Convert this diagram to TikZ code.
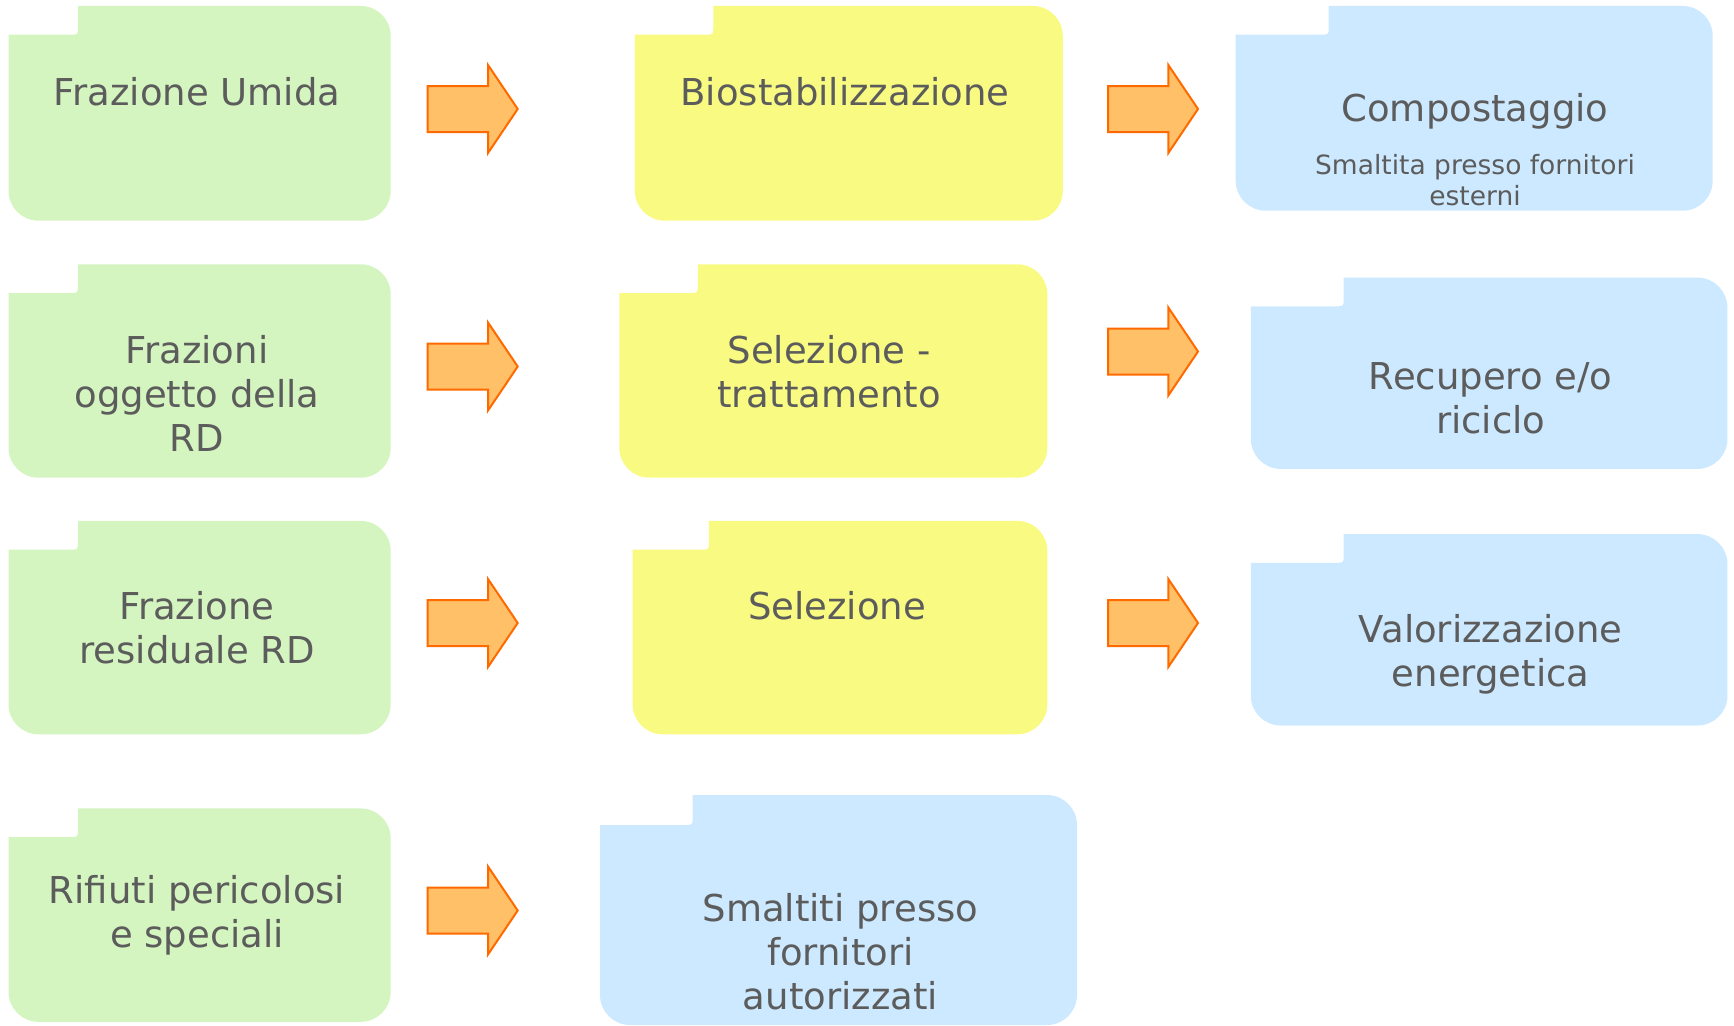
\documentclass[tikz,border=0pt]{standalone}
\usepackage{fontspec}
\setmainfont{DejaVu Sans}
\usepackage{tikz}
\usetikzlibrary{shapes.arrows}
\pgfdeclarelayer{edgelayer}
\pgfdeclarelayer{nodelayer}
\pgfsetlayers{edgelayer,nodelayer,main}
\definecolor{greenbox}{RGB}{212,245,192}
\definecolor{yellowbox}{RGB}{248,250,130}
\definecolor{bluebox}{RGB}{204,233,255}
\definecolor{arrowfill}{RGB}{255,192,104}
\definecolor{arrowline}{RGB}{255,106,0}
\definecolor{textgrey}{RGB}{92,92,92}
\tikzstyle{boxtext}=[text=textgrey, align=center, font=\fontsize{37}{44}\selectfont]
\tikzstyle{notetext}=[text=textgrey, align=center, font=\fontsize{26.5}{31}\selectfont]
\tikzstyle{bigarrow}=[single arrow, fill=arrowfill, draw=arrowline, line width=2pt, minimum height=90pt, single arrow head extend=21pt, single arrow tip angle=112, inner xsep=0pt, inner ysep=22pt, outer sep=0pt, anchor=tail]
% folder: colour, left, top, right, bottom, tab x, tab y
\newcommand{\folder}[7]{\fill [#1] (#6,#3) -- ({#4-30},#3) .. controls ({#4-13.4},#3) and (#4,{#3+13.4}) .. (#4,{#3+30}) -- (#4,{#5-30}) .. controls (#4,{#5-13.4}) and ({#4-13.4},#5) .. ({#4-30},#5) -- ({#2+30},#5) .. controls ({#2+13.4},#5) and (#2,{#5-13.4}) .. (#2,{#5-30}) -- (#2,#7) -- ({#6-8},#7) .. controls (#6,#7) .. (#6,{#7-8}) -- cycle;}

\begin{document}
\begin{tikzpicture}[x=1pt, y=-1pt]
	\useasboundingbox (0,0) rectangle (1734,1025);
	\begin{pgfonlayer}{edgelayer}
		\folder{greenbox}{8.5}{6}{390.7}{220.7}{78}{34.7}
		\folder{greenbox}{8.5}{264.3}{390.7}{477.7}{78}{293}
		\folder{greenbox}{8.5}{520.9}{390.7}{734.3}{78}{549.6}
		\folder{greenbox}{8.5}{808.4}{390.7}{1021.8}{78}{837.1}
		\folder{yellowbox}{634.8}{6}{1062.8}{220.7}{713.3}{34.7}
		\folder{yellowbox}{619.3}{264.3}{1047.3}{477.7}{697.8}{293}
		\folder{yellowbox}{632.6}{520.9}{1047.3}{734.3}{708.9}{549.6}
		\folder{bluebox}{1235.7}{6}{1712.7}{210.7}{1328.7}{34.7}
		\folder{bluebox}{1250.8}{277.6}{1727.4}{468.9}{1343.7}{306.3}
		\folder{bluebox}{1250.8}{534.1}{1727.4}{725.5}{1343.7}{562.8}
		\folder{bluebox}{600}{795}{1077}{1025}{692.7}{825}
		\node [style=bigarrow] (a1) at (427.7,109) {};
		\node [style=bigarrow] (a2) at (1108,109) {};
		\node [style=bigarrow] (a3) at (427.7,366.5) {};
		\node [style=bigarrow] (a4) at (1108,351.5) {};
		\node [style=bigarrow] (a5) at (427.7,623) {};
		\node [style=bigarrow] (a6) at (1108,623) {};
		\node [style=bigarrow] (a7) at (427.7,910.5) {};
	\end{pgfonlayer}
	\begin{pgfonlayer}{nodelayer}
		\node [style=boxtext] (1) at (197,92) {Frazione Umida};
		\node [style=boxtext] (2) at (845,92) {Biostabilizzazione};
		\node [style=boxtext] (3) at (1475,111) {Compostaggio};
		\node [style=notetext] (4) at (1475,180) {Smaltita presso fornitori\\esterni};
		\node [style=boxtext] (5) at (197,393.7) {Frazioni\\oggetto della\\RD};
		\node [style=boxtext] (6) at (829,371.6) {Selezione -\\trattamento};
		\node [style=boxtext] (7) at (1490.7,398) {Recupero e/o\\riciclo};
		\node [style=boxtext] (8) at (197,628) {Frazione\\residuale RD};
		\node [style=boxtext] (9) at (837,606) {Selezione};
		\node [style=boxtext] (10) at (1490.7,654.7) {Valorizzazione\\energetica};
		\node [style=boxtext] (11) at (197,915.7) {Rifiuti pericolosi\\e speciali};
		\node [style=boxtext] (12) at (840.5,952) {Smaltiti presso\\fornitori\\autorizzati};
	\end{pgfonlayer}
\end{tikzpicture}
\end{document}
